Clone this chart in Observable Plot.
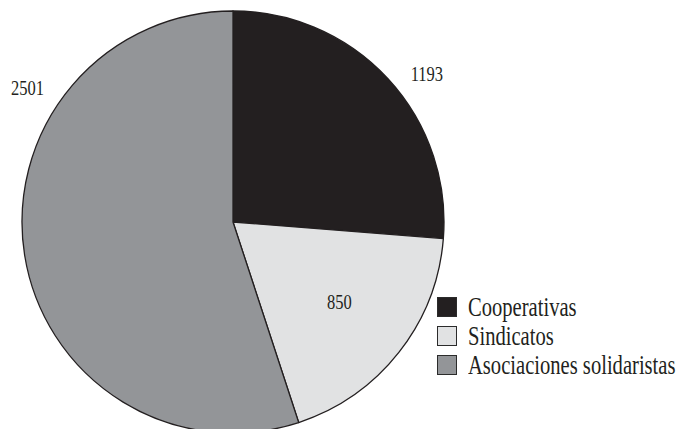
<!DOCTYPE html>
<html><head><meta charset="utf-8">
<script src="https://cdn.jsdelivr.net/npm/d3@7"></script>
<script src="https://cdn.jsdelivr.net/npm/@observablehq/plot@0.6"></script>
<style>
html,body{margin:0;padding:0;background:#fff;}
#wrap{position:relative;width:676px;height:429px;overflow:hidden;}
#legend{position:absolute;left:437px;top:297px;font-family:"Liberation Serif",serif;font-size:28px;color:#231f20;}
.row{display:flex;align-items:center;height:20px;margin-bottom:9px;}
.sw{width:20px;height:20px;box-sizing:border-box;border:1.3px solid #2b2b2b;flex:none;}
.lab{margin-left:11px;transform:scaleX(0.735);transform-origin:left center;white-space:nowrap;line-height:20px;}
</style></head>
<body><div id="wrap"></div>
<script>
// ---- data ----
const categories = ["Cooperativas", "Sindicatos", "Asociaciones solidaristas"];
const values = [1193, 850, 2501];
const valueLabels = ["1193", "850", "2501"];
const colors = ["#231f20", "#e1e2e3", "#939598"];
// label placement: angle (deg, clockwise from 12 o'clock) and radius as fraction of pie radius
const labelAngle = [52.4, 126.9, 303.2];
const labelRadius = [1.157, 0.628, 1.167];

const data = categories.map((c, i) => ({category: c, value: values[i]}));
const arcs = d3.pie().sort(null).value(d => d.value).startAngle(0).endAngle(2 * Math.PI)(data);
const color = Plot.scale({color: {type: "ordinal", domain: categories, range: colors}});

const labelData = valueLabels.map((l, i) => {
  const t = labelAngle[i] * Math.PI / 180;
  return {label: l, x: labelRadius[i] * Math.sin(t), y: labelRadius[i] * Math.cos(t)};
});

const chart = Plot.plot({
  width: 676,
  height: 429,
  margin: 0,
  style: {background: "#fff", overflow: "visible"},
  x: {domain: [-1, 1], range: [22, 444], axis: null},
  y: {domain: [-1, 1], range: [433, 11], axis: null},
  marks: [
    (index, scales) => {
      const cx = scales.x(0), cy = scales.y(0), r = scales.x(1) - scales.x(0);
      const arc = d3.arc().innerRadius(0).outerRadius(r);
      const g = d3.create("svg:g").attr("transform", `translate(${cx},${cy})`);
      g.selectAll("path").data(arcs).join("path")
        .attr("d", arc)
        .attr("fill", d => color.apply(d.data.category))
        .attr("stroke", "#231f20")
        .attr("stroke-width", 1.3)
        .attr("stroke-linejoin", "round");
      return g.node();
    },
    Plot.text(labelData, {
      x: "x", y: "y", text: "label",
      fontSize: 22, fontFamily: "Liberation Serif", fill: "#231f20"
    })
  ]
});

const wrap = document.getElementById("wrap");
wrap.appendChild(chart);

// condense the label glyphs horizontally around their anchor
chart.querySelectorAll('g[aria-label="text"] text').forEach(t => {
  const tr = t.getAttribute("transform") || "";
  if (t.hasAttribute("x")) {
    const x = +t.getAttribute("x");
    t.setAttribute("transform", `${tr} translate(${x},0) scale(0.75,1) translate(${-x},0)`);
  } else {
    t.setAttribute("transform", `${tr} scale(0.75,1)`);
  }
});

// legend
const legend = document.createElement("div");
legend.id = "legend";
categories.forEach((c, i) => {
  const row = document.createElement("div");
  row.className = "row";
  const sw = document.createElement("div");
  sw.className = "sw";
  sw.style.background = color.apply(c);
  const lab = document.createElement("div");
  lab.className = "lab";
  lab.textContent = c;
  row.appendChild(sw);
  row.appendChild(lab);
  legend.appendChild(row);
});
wrap.appendChild(legend);
</script>
</body></html>
